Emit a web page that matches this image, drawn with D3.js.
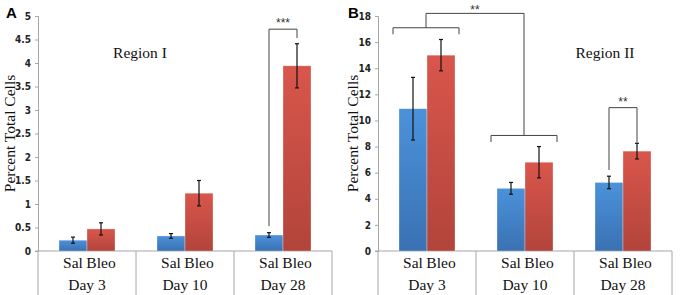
<!DOCTYPE html>
<html>
<head>
<meta charset="utf-8">
<script src="https://cdn.jsdelivr.net/npm/d3@7/dist/d3.min.js"></script>
<style>
    body { margin: 0; background: #fff; }
    .axis path, .axis line { stroke: #a6a6a6; }
    .bracket { fill: none; stroke: #444; stroke-width: 1; }
    .err { stroke: #111; stroke-width: 1.2; }
</style>
</head>
<body>
<div id="chart"></div>
<script>
// data
var days = ["Day 3", "Day 10", "Day 28"];
var groups = ["Sal", "Bleo"];

var regionISal = [0.23, 0.32, 0.34];
var regionISalErr = [0.065, 0.05, 0.05];
var regionIBleo = [0.47, 1.23, 3.94];
var regionIBleoErr = [0.13, 0.27, 0.47];

var regionIISal = [10.9, 4.8, 5.25];
var regionIISalErr = [2.4, 0.45, 0.48];
var regionIIBleo = [15.0, 6.8, 7.65];
var regionIIBleoErr = [1.2, 1.2, 0.6];

var ticksI = d3.range(0, 5.01, 0.5);
var ticksII = d3.range(0, 18.01, 2);

var serifFont = "'Liberation Serif', 'Times New Roman', 'DejaVu Serif', serif";
var tickFont = "'Liberation Sans Narrow', 'DejaVu Sans Condensed', 'Liberation Sans', sans-serif";

var w = 680, h = 295;
var svg = d3.select("#chart").append("svg")
    .attr("width", w)
    .attr("height", h);

var defs = svg.append("defs");
function grad(id, c1, c2) {
    var g = defs.append("linearGradient").attr("id", id)
        .attr("x1", 0).attr("y1", 0).attr("x2", 0).attr("y2", 1);
    g.append("stop").attr("offset", "0%").attr("stop-color", c1);
    g.append("stop").attr("offset", "100%").attr("stop-color", c2);
}
grad("gBlue", "#4b92da", "#3a71b3");
grad("gRed", "#d9564b", "#b2443b");
var fills = ["url(#gBlue)", "url(#gRed)"];

function panel(opt) {
    var g = svg.append("g").attr("transform", "translate(" + opt.x0 + ",0)");
    var top = 16, bottom = 251, left = 38, right = left + 294;

    var yScale = d3.scaleLinear().domain([0, opt.max]).range([bottom, top]);
    var xScale = d3.scaleBand().domain(days).range([left, right]);
    var inner = d3.scaleBand().domain(groups).range([0, 56]);

    g.append("g")
        .attr("class", "axis")
        .attr("transform", "translate(" + left + ",0)")
        .call(d3.axisLeft(yScale).tickValues(opt.ticks).tickSize(3).tickSizeOuter(3)
            .tickFormat(d3.format("~g")))
        .call(function(a) {
            a.selectAll("text")
                .attr("x", -7)
                .style("font-family", tickFont)
                .style("font-weight", "bold")
                .style("font-size", "10px")
                .attr("fill", "#222");
        });

    // category table under the chart
    g.append("line")
        .attr("x1", left - 3).attr("x2", right)
        .attr("y1", bottom).attr("y2", bottom)
        .attr("stroke", "#a6a6a6");
    var edges = days.map(function(d) { return xScale(d); }).concat([right]);
    g.selectAll(".sep").data(edges).enter().append("line")
        .attr("x1", function(d) { return d; }).attr("x2", function(d) { return d; })
        .attr("y1", bottom).attr("y2", h)
        .attr("stroke", "#a6a6a6");

    var series = [opt.sal, opt.bleo];
    var errs = [opt.salErr, opt.bleoErr];
    var bars = [];
    series.forEach(function(vals, gi) {
        vals.forEach(function(v, di) {
            var x = xScale(days[di]) + (xScale.bandwidth() - 56) / 2 + inner(groups[gi]);
            bars.push({ x: x, v: v, e: errs[gi][di], gi: gi, di: di });
        });
    });

    g.selectAll(".bar").data(bars).enter().append("rect")
        .attr("x", function(d) { return d.x; })
        .attr("y", function(d) { return yScale(d.v); })
        .attr("width", inner.bandwidth())
        .attr("height", function(d) { return bottom - yScale(d.v); })
        .attr("fill", function(d) { return fills[d.gi]; })
        .attr("stroke", "rgba(255,255,255,0.5)")
        .attr("stroke-width", 0.6);

    var cx = function(d) { return d.x + inner.bandwidth() / 2; };
    g.selectAll(".errv").data(bars).enter().append("line")
        .attr("class", "err")
        .attr("x1", cx).attr("x2", cx)
        .attr("y1", function(d) { return yScale(d.v + d.e); })
        .attr("y2", function(d) { return yScale(d.v - d.e); });
    [1, -1].forEach(function(s) {
        g.selectAll(".errc" + s).data(bars).enter().append("line")
            .attr("class", "err")
            .attr("x1", function(d) { return cx(d) - 2; })
            .attr("x2", function(d) { return cx(d) + 2; })
            .attr("y1", function(d) { return yScale(d.v + s * d.e); })
            .attr("y2", function(d) { return yScale(d.v + s * d.e); })
            .attr("stroke-width", 1.8);
    });

    // group labels
    g.selectAll(".glab").data(bars).enter().append("text")
        .attr("x", cx)
        .attr("y", 268)
        .attr("text-anchor", "middle")
        .style("font-family", serifFont)
        .style("font-size", "15.5px")
        .attr("fill", "#111")
        .text(function(d) { return groups[d.gi]; });
    g.selectAll(".dlab").data(days).enter().append("text")
        .attr("x", function(d) { return xScale(d) + xScale.bandwidth() / 2; })
        .attr("y", 290)
        .attr("text-anchor", "middle")
        .style("font-family", serifFont)
        .style("font-size", "15.5px")
        .attr("fill", "#111")
        .text(function(d) { return d; });

    // titles
    g.append("text")
        .attr("transform", "translate(" + opt.yTitleX + "," + ((top + bottom) / 2) + ") rotate(-90)")
        .attr("text-anchor", "middle")
        .style("font-family", serifFont)
        .style("font-size", "15.5px")
        .attr("fill", "#111")
        .text("Percent Total Cells");
    g.append("text")
        .attr("x", opt.regionX).attr("y", 58)
        .attr("text-anchor", "middle")
        .style("font-family", serifFont)
        .style("font-size", "15.5px")
        .attr("fill", "#111")
        .text(opt.region);
    g.append("text")
        .attr("x", opt.letterX).attr("y", 18)
        .style("font-family", "'Liberation Sans', Arial, sans-serif")
        .style("font-weight", "bold")
        .style("font-size", "15px")
        .text(opt.letter);

    return { g: g, y: yScale, bars: bars, cx: cx };
}

var A = panel({
    x0: 0, max: 5, ticks: ticksI,
    sal: regionISal, salErr: regionISalErr, bleo: regionIBleo, bleoErr: regionIBleoErr,
    region: "Region I", regionX: 140, yTitleX: 15, letter: "A", letterX: 6
});
var B = panel({
    x0: 340, max: 18, ticks: ticksII,
    sal: regionIISal, salErr: regionIISalErr, bleo: regionIIBleo, bleoErr: regionIIBleoErr,
    region: "Region II", regionX: 265, yTitleX: 18, letter: "B", letterX: 8
});

function starLabel(P, x, y, label) {
    P.g.append("text")
        .attr("x", x).attr("y", y)
        .attr("text-anchor", "middle")
        .style("font-family", "'Liberation Sans', Arial, sans-serif")
        .style("font-size", "12px")
        .attr("fill", "#333")
        .text(label);
}

function pairBracket(P, di, top, leftEnd, rightEnd, label) {
    var s = P.bars.filter(function(b) { return b.di === di; });
    var x1 = P.cx(s[0]), x2 = P.cx(s[1]);
    var path = d3.path();
    path.moveTo(x1, P.y(leftEnd));
    path.lineTo(x1, P.y(top));
    path.lineTo(x2, P.y(top));
    path.lineTo(x2, P.y(rightEnd));
    P.g.append("path").attr("class", "bracket").attr("d", path.toString());
    starLabel(P, (x1 + x2) / 2, P.y(top) - 2, label);
}

// Region I, day 28
pairBracket(A, 2, 4.72, 0.53, 4.53, "***");
// Region II, day 28
pairBracket(B, 2, 10.98, 6.2, 8.3, "**");

// Region II, day 3 vs day 10
function groupBrace(P, di, level, drop) {
    var s = P.bars.filter(function(b) { return b.di === di; });
    var x1 = s[0].x - 6, x2 = s[1].x + 28 + 4;
    var path = d3.path();
    path.moveTo(x1, P.y(level - drop));
    path.lineTo(x1, P.y(level));
    path.lineTo(x2, P.y(level));
    path.lineTo(x2, P.y(level - drop));
    P.g.append("path").attr("class", "bracket").attr("d", path.toString());
    return (x1 + x2) / 2;
}
var m3 = groupBrace(B, 0, 17.1, 0.5);
var m10 = groupBrace(B, 1, 8.85, 0.5);
var link = d3.path();
link.moveTo(m3, B.y(17.1));
link.lineTo(m3, B.y(18.2));
link.lineTo(m10, B.y(18.2));
link.lineTo(m10, B.y(8.85));
B.g.append("path").attr("class", "bracket").attr("d", link.toString());
starLabel(B, (m3 + m10) / 2, B.y(18.2) + 1, "**");
</script>
</body>
</html>
